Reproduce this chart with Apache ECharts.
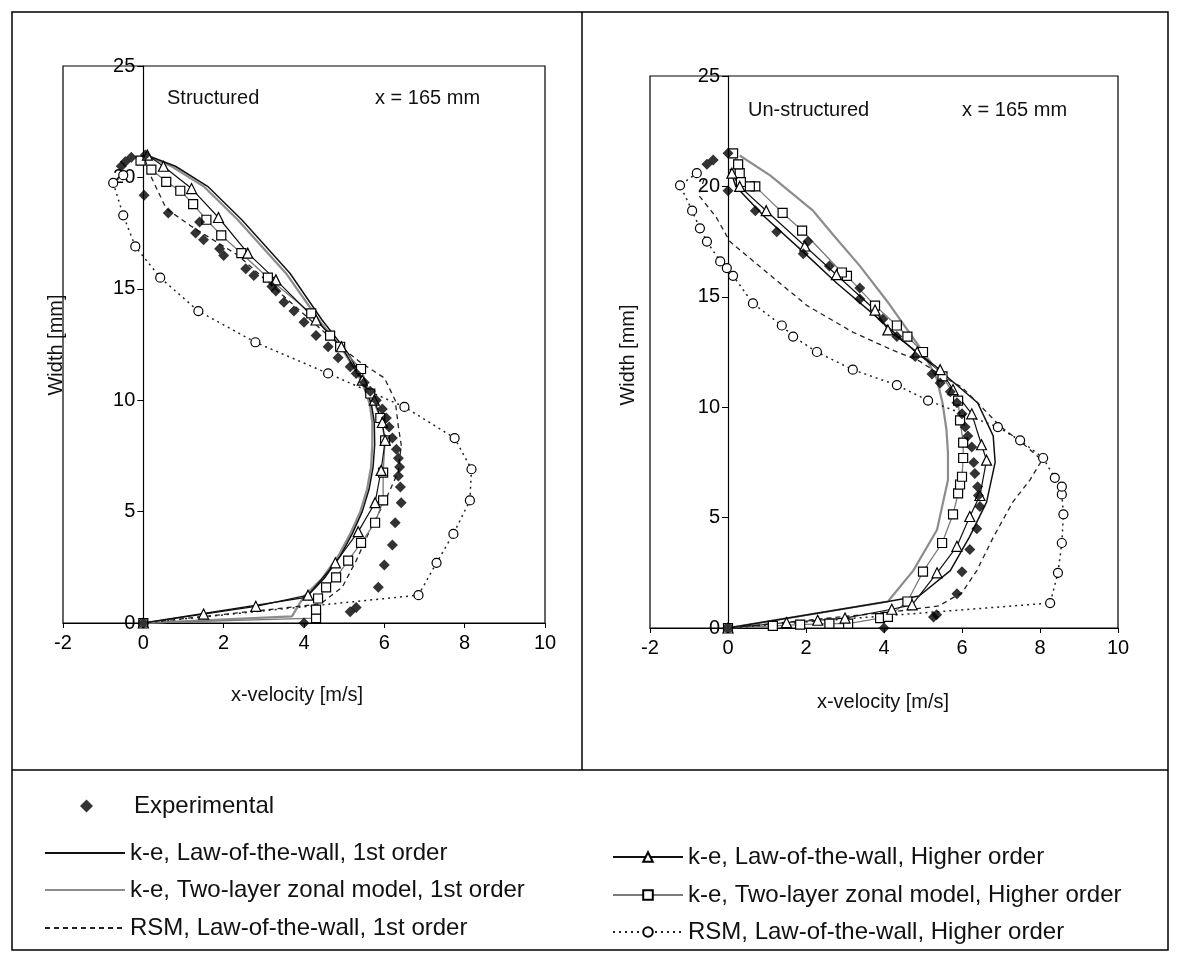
<!DOCTYPE html>
<html>
<head>
<meta charset="utf-8">
<script src="https://cdn.jsdelivr.net/npm/echarts@6/dist/echarts.min.js"></script>
<style>
  html, body { margin: 0; padding: 0; background: #fff; }
  #chart { width: 1180px; height: 954px; }
</style>
</head>
<body>
<div id="chart"></div>
<script>
// Axis ranges (x-velocity in m/s, width in mm)
const velMin = -2, velMax = 10, velStep = 2;
const widthMin = 0, widthMax = 25, widthStep = 5;

// Series names
const NAME_EXP   = 'Experimental';
const NAME_LW1   = 'k-e, Law-of-the-wall, 1st order';
const NAME_TL1   = 'k-e, Two-layer zonal model, 1st order';
const NAME_RSM1  = 'RSM, Law-of-the-wall, 1st order';
const NAME_LWH   = 'k-e, Law-of-the-wall, Higher order';
const NAME_TLH   = 'k-e, Two-layer zonal model, Higher order';
const NAME_RSMH  = 'RSM, Law-of-the-wall, Higher order';

// ---- Structured mesh, x = 165 mm : [velocity, width] ----
const expStructured = [[0,0],[4,0],[5.15,0.5],[5.3,0.7],[5.85,1.6],[6.0,2.6],[6.2,3.5],[6.27,4.5],[6.42,5.4],[6.4,6.1],[6.35,6.6],[6.38,7.0],[6.35,7.4],[6.3,7.8],[6.2,8.3],[6.12,8.8],[6.05,9.2],[5.95,9.6],[5.8,10.0],[5.65,10.4],[5.5,10.8],[5.3,11.2],[5.15,11.5],[4.85,11.9],[4.6,12.4],[4.3,12.9],[4.0,13.5],[3.75,14.0],[3.5,14.4],[3.3,14.9],[3.2,15.1],[2.75,15.6],[2.55,15.9],[2.0,16.5],[1.9,16.8],[1.5,17.2],[1.3,17.5],[1.4,18.0],[0.62,18.4],[0.02,19.2],[-0.55,20.5],[-0.45,20.7],[-0.3,20.9],[0.05,21.0]];
const lw1Structured = [[0,0],[4.05,1.15],[4.5,2.0],[4.9,3.0],[5.2,4.0],[5.45,5.0],[5.62,6.0],[5.72,7.0],[5.76,8.0],[5.75,9.0],[5.68,9.8],[5.5,10.8],[5.1,12.1],[4.45,13.6],[3.65,15.7],[2.95,17.1],[2.45,18.1],[1.6,19.6],[0.8,20.5],[0.15,20.95]];
const tl1Structured = [[0,0],[3.7,0.3],[4.0,1.2],[4.45,2.0],[4.85,3.0],[5.15,4.0],[5.4,5.0],[5.57,6.0],[5.67,7.0],[5.7,8.0],[5.7,9.0],[5.64,9.8],[5.45,10.8],[5.02,12.1],[4.37,13.6],[3.55,15.7],[2.85,17.1],[2.35,18.1],[1.5,19.6],[0.7,20.5],[0.1,20.95]];
const rsm1Structured = [[0,0],[4.4,0.85],[4.95,1.6],[5.3,2.8],[5.65,4.2],[6.05,5.6],[6.35,6.8],[6.42,8.0],[6.35,8.8],[6.27,10.0],[6.0,11.0],[5.4,11.7],[4.85,12.5],[3.6,14.5],[2.36,16.5],[1.2,17.8],[0.57,18.6],[0.2,20.0],[0.0,21.0]];
const lwhStructured = [[0,0],[1.5,0.4],[2.8,0.75],[4.1,1.25],[4.78,2.7],[5.35,4.1],[5.77,5.4],[5.92,6.85],[6.02,8.2],[5.95,9.0],[5.75,10.0],[5.45,10.9],[4.93,12.4],[4.3,13.6],[3.3,15.4],[2.6,16.6],[1.87,18.2],[1.2,19.5],[0.5,20.5],[0.1,21.0]];
const tlhStructured = [[0,0],[4.3,0.22],[4.3,0.6],[4.35,1.1],[4.55,1.6],[4.8,2.05],[5.1,2.8],[5.42,3.6],[5.77,4.5],[5.97,5.5],[5.97,6.75],[6.02,8.2],[5.9,9.2],[5.65,10.3],[5.42,11.4],[4.9,12.4],[4.65,12.9],[4.18,13.9],[3.1,15.5],[2.44,16.6],[1.94,17.4],[1.57,18.1],[1.24,18.8],[0.92,19.4],[0.57,19.8],[0.2,20.35],[-0.07,20.75]];
const rsmhStructured = [[0,0],[6.85,1.25],[7.3,2.7],[7.72,4.0],[8.13,5.5],[8.17,6.9],[7.75,8.3],[6.5,9.7],[4.6,11.2],[2.79,12.6],[1.37,14.0],[0.42,15.5],[-0.2,16.9],[-0.5,18.3],[-0.75,19.75],[-0.5,20.1]];

// ---- Un-structured mesh, x = 165 mm : [velocity, width] ----
const expUnstructured = [[0,0],[4,0],[5.27,0.5],[5.35,0.6],[5.87,1.55],[6.0,2.55],[6.2,3.55],[6.38,4.5],[6.46,5.5],[6.42,6.0],[6.4,6.4],[6.33,7.0],[6.3,7.5],[6.25,8.2],[6.15,8.7],[6.08,9.1],[6.0,9.7],[5.87,10.2],[5.7,10.7],[5.44,11.1],[5.23,11.5],[4.8,12.3],[4.33,13.2],[3.97,14.0],[3.38,14.9],[3.38,15.4],[2.6,16.4],[1.93,16.95],[2.05,17.5],[1.25,17.95],[0.7,18.9],[0.0,19.8],[-0.54,21.0],[-0.38,21.2],[0.0,21.5]];
const lw1Unstructured = [[0,0],[4.1,1.2],[4.9,1.45],[5.7,2.6],[6.2,4.15],[6.63,5.7],[6.85,7.5],[6.8,8.7],[6.4,10.2],[5.6,11.4],[4.75,12.6],[3.8,14.1],[2.8,15.6],[1.95,17.0],[0.95,18.6],[0.2,20.0],[0.05,20.8]];
const tl1Unstructured = [[0,0],[4.1,1.2],[4.75,2.6],[5.36,4.45],[5.64,6.7],[5.64,7.95],[5.6,9.0],[5.5,10.2],[5.35,11.3],[5.0,12.5],[4.08,14.8],[3.38,16.4],[2.7,17.8],[2.18,18.9],[1.08,20.5],[0.3,21.4]];
const rsm1Unstructured = [[0,0],[4.3,0.75],[5.4,1.0],[6.0,1.6],[6.38,2.6],[6.8,4.1],[7.3,5.7],[7.74,6.7],[8.05,7.6],[7.5,8.45],[7.0,9.1],[6.4,10.2],[6.0,10.9],[5.5,11.4],[4.9,12.1],[4.2,12.6],[3.2,13.4],[2.03,14.6],[1.0,16.1],[0.05,17.5],[-0.3,18.6],[-0.75,19.6],[-0.6,20.4]];
const lwhUnstructured = [[0,0],[1.5,0.25],[2.3,0.35],[3.0,0.45],[4.2,0.85],[4.72,1.05],[5.36,2.5],[5.87,3.7],[6.2,5.05],[6.46,6.0],[6.63,7.6],[6.5,8.3],[6.25,9.7],[5.77,10.8],[5.44,11.7],[4.85,12.5],[4.1,13.5],[3.77,14.4],[2.78,16.0],[1.97,17.3],[0.98,18.9],[0.3,20.0],[0.1,20.6]];
const tlhUnstructured = [[0,0],[1.15,0.1],[1.85,0.15],[2.6,0.2],[3.08,0.2],[3.9,0.45],[4.1,0.5],[4.6,1.2],[5.0,2.55],[5.49,3.85],[5.77,5.15],[5.9,6.1],[5.95,6.5],[6.0,6.85],[6.03,7.7],[6.03,8.4],[5.95,9.4],[5.9,10.3],[5.5,11.4],[5.0,12.5],[4.6,13.2],[4.33,13.7],[3.77,14.6],[3.05,15.95],[2.92,16.1],[1.9,18.0],[1.4,18.8],[0.7,20.0],[0.56,20.0],[0.33,20.2],[0.3,20.6],[0.26,21.0],[0.13,21.5]];
const rsmhUnstructured = [[0,0],[8.26,1.13],[8.46,2.5],[8.56,3.85],[8.6,5.15],[8.56,6.05],[8.56,6.4],[8.38,6.8],[8.08,7.7],[7.49,8.5],[6.92,9.1],[5.13,10.3],[4.33,11.0],[3.2,11.7],[2.28,12.5],[1.67,13.2],[1.38,13.7],[0.64,14.7],[0.13,15.95],[-0.03,16.3],[-0.2,16.6],[-0.54,17.5],[-0.72,18.1],[-0.92,18.9],[-1.23,20.05],[-0.8,20.6]];

const FONT = '"Liberation Sans", Arial, Helvetica, sans-serif';
const openMarker = { color: '#fff', borderColor: '#000', borderWidth: 1.2 };

// Plot-area boxes of the two panels (pixels)
const panels = [
  { left: 63, top: 66, width: 482, height: 557 },
  { left: 650, top: 76, width: 468, height: 552 }
];

// Series styling shared by both panels
function panelSeries(idx, d) {
  const base = { xAxisIndex: idx, yAxisIndex: idx, animation: false, z: 3 };
  return [
    Object.assign({}, base, { name: NAME_TL1, type: 'line', data: d.tl1, symbol: 'none',
      lineStyle: { color: '#8c8c8c', width: 2.2 } }),
    Object.assign({}, base, { name: NAME_LW1, type: 'line', data: d.lw1, symbol: 'none',
      lineStyle: { color: '#111', width: 1.5 } }),
    Object.assign({}, base, { name: NAME_RSM1, type: 'line', data: d.rsm1, symbol: 'none',
      lineStyle: { color: '#222', width: 1.3, type: [5, 4] } }),
    Object.assign({}, base, { name: NAME_TLH, type: 'line', data: d.tlh, symbol: 'rect', symbolSize: 9,
      showAllSymbol: true, lineStyle: { color: '#7a7a7a', width: 1.3 }, itemStyle: openMarker }),
    Object.assign({}, base, { name: NAME_LWH, type: 'line', data: d.lwh, symbol: 'triangle', symbolSize: 10,
      showAllSymbol: true, lineStyle: { color: '#111', width: 1.2 }, itemStyle: openMarker }),
    Object.assign({}, base, { name: NAME_RSMH, type: 'line', data: d.rsmh, symbol: 'circle', symbolSize: 9,
      showAllSymbol: true, lineStyle: { color: '#222', width: 1.5, type: [2, 4] }, itemStyle: openMarker }),
    Object.assign({}, base, { name: NAME_EXP, type: 'scatter', data: d.exp, symbol: 'diamond', symbolSize: 11,
      itemStyle: { color: '#000' }, z: 4 })
  ];
}

function xAxisCfg(idx) {
  return {
    gridIndex: idx, type: 'value', min: velMin, max: velMax, interval: velStep,
    axisLine: { onZero: false, lineStyle: { color: '#000', width: 1.2 } },
    axisTick: { show: true, inside: false, length: 5, lineStyle: { color: '#000' } },
    axisLabel: { color: '#000', fontFamily: FONT, fontSize: 20, margin: 10 },
    splitLine: { show: false }
  };
}
// The width axis stands on velocity = 0, inside the plot box
function yAxisCfg(idx) {
  const p = panels[idx];
  const zeroShift = (0 - velMin) / (velMax - velMin) * p.width;
  return {
    gridIndex: idx, type: 'value', min: widthMin, max: widthMax, interval: widthStep,
    position: 'left', offset: -zeroShift,
    axisLine: { onZero: false, lineStyle: { color: '#000', width: 1.2 } },
    axisTick: { show: true, inside: false, length: 6, lineStyle: { color: '#000' } },
    axisLabel: { color: '#000', fontFamily: FONT, fontSize: 20, margin: 8 },
    splitLine: { show: false }
  };
}

const LEGEND_TEXT = { color: '#111', fontFamily: FONT, fontSize: 24, lineHeight: 24 };
function legendRow(name, left, top, itemWidth, extra) {
  return Object.assign({
    data: [name], left: left, top: top, orient: 'horizontal', padding: 0,
    itemWidth: itemWidth, itemHeight: 12, itemGap: 0, selectedMode: false,
    textStyle: LEGEND_TEXT
  }, extra || {});
}
// plain line samples carry no marker
const noMarker = { itemStyle: { opacity: 0 } };

const chart = echarts.init(document.getElementById('chart'), null, { renderer: 'canvas' });

chart.setOption({
  backgroundColor: '#fff',
  animation: false,
  grid: panels.map(p => Object.assign({ show: true, borderColor: '#000', borderWidth: 1.2, backgroundColor: 'transparent' }, p)),
  xAxis: [xAxisCfg(0), xAxisCfg(1)],
  yAxis: [yAxisCfg(0), yAxisCfg(1)],
  legend: [
    legendRow(NAME_EXP, 80, 794, 13, { icon: 'diamond', itemHeight: 13,
      textStyle: Object.assign({}, LEGEND_TEXT, { padding: [0, 0, 0, 36] }) }),
    legendRow(NAME_LW1, 44, 841, 80, noMarker),
    legendRow(NAME_TL1, 44, 878, 80, noMarker),
    legendRow(NAME_RSM1, 44, 916, 80, noMarker),
    legendRow(NAME_LWH, 612, 845, 70),
    legendRow(NAME_TLH, 612, 883, 70),
    legendRow(NAME_RSMH, 612, 920, 70)
  ],
  series: [].concat(
    panelSeries(0, { exp: expStructured, lw1: lw1Structured, tl1: tl1Structured, rsm1: rsm1Structured,
      lwh: lwhStructured, tlh: tlhStructured, rsmh: rsmhStructured }),
    panelSeries(1, { exp: expUnstructured, lw1: lw1Unstructured, tl1: tl1Unstructured, rsm1: rsm1Unstructured,
      lwh: lwhUnstructured, tlh: tlhUnstructured, rsmh: rsmhUnstructured })
  ),
  graphic: [
    // outer frame and panel dividers
    { type: 'rect', shape: { x: 12, y: 12, width: 1156, height: 938 }, style: { fill: 'none', stroke: '#000', lineWidth: 1.5 }, silent: true },
    { type: 'line', shape: { x1: 582, y1: 12, x2: 582, y2: 770 }, style: { stroke: '#000', lineWidth: 1.5 }, silent: true },
    { type: 'line', shape: { x1: 12, y1: 770, x2: 1168, y2: 770 }, style: { stroke: '#000', lineWidth: 1.5 }, silent: true },
    // panel annotations
    { type: 'text', x: 167, y: 98, style: { text: 'Structured', fill: '#111', font: '20px ' + FONT, textVerticalAlign: 'middle' } },
    { type: 'text', x: 375, y: 98, style: { text: 'x = 165 mm', fill: '#111', font: '20px ' + FONT, textVerticalAlign: 'middle' } },
    { type: 'text', x: 748, y: 110, style: { text: 'Un-structured', fill: '#111', font: '20px ' + FONT, textVerticalAlign: 'middle' } },
    { type: 'text', x: 962, y: 110, style: { text: 'x = 165 mm', fill: '#111', font: '20px ' + FONT, textVerticalAlign: 'middle' } },
    // axis titles
    { type: 'text', x: 297, y: 695, style: { text: 'x-velocity [m/s]', fill: '#111', font: '20px ' + FONT, textAlign: 'center', textVerticalAlign: 'middle' } },
    { type: 'text', x: 883, y: 702, style: { text: 'x-velocity [m/s]', fill: '#111', font: '20px ' + FONT, textAlign: 'center', textVerticalAlign: 'middle' } },
    { type: 'text', x: 56, y: 345, rotation: Math.PI / 2, style: { text: 'Width [mm]', fill: '#111', font: '20px ' + FONT, textAlign: 'center', textVerticalAlign: 'middle' } },
    { type: 'text', x: 628, y: 355, rotation: Math.PI / 2, style: { text: 'Width [mm]', fill: '#111', font: '20px ' + FONT, textAlign: 'center', textVerticalAlign: 'middle' } }
  ]
});
</script>
</body>
</html>
